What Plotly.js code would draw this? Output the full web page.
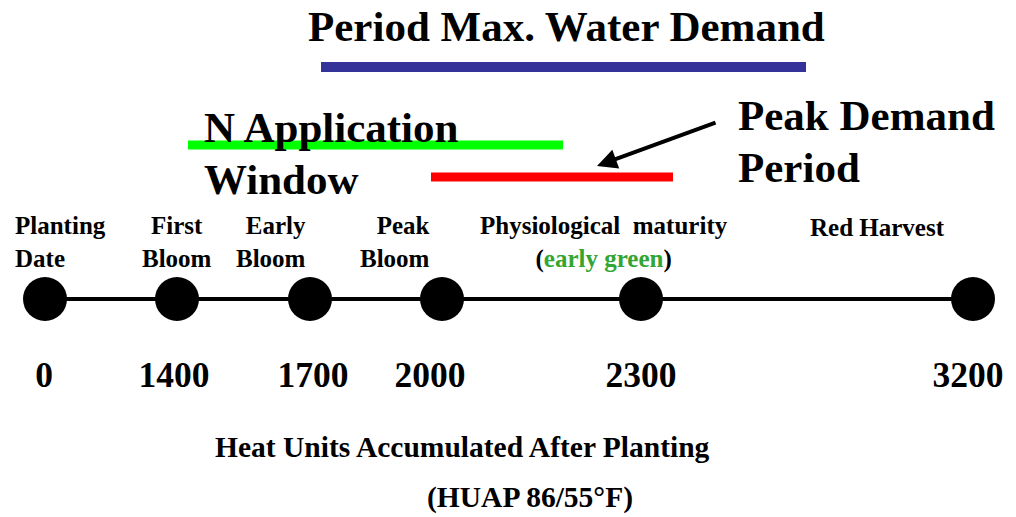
<!DOCTYPE html>
<html>
<head>
<meta charset="utf-8">
<script src="https://cdn.plot.ly/plotly-3.0.1.min.js"></script>
<style>html,body{margin:0;padding:0;background:#fff;} #chart{width:1016px;height:517px;}</style>
</head>
<body>
<div id="chart"></div>
<script>
// ---- data ----
const stageNames = ["Planting<br>Date", "First<br>Bloom", "Early<br>Bloom", "Peak<br>Bloom",
  "Physiological\u00a0 maturity<br>(<span style=\"color:#33a532\">early green</span>)", "Red Harvest"];
const heatUnits = [0, 1400, 1700, 2000, 2300, 3200];
const periodNames = ["Period Max. Water Demand", "N Application Window", "Peak Demand Period"];
const periodColors = ["#333399", "#00ff00", "#ff0000"];
const labelLines = ["Period Max. Water Demand", "N Application", "Window", "Peak Demand", "Period"];
const axisTitle = "Heat Units Accumulated After Planting";
const axisSubtitle = "(HUAP 86/55°F)";

// ---- layout (display positions on the schematic timeline) ----
const nodePos = [45, 177, 310, 442, 641, 973];
const labelPos = [44, 174, 313, 430, 641, 968];
const periodStart = [321, 188, 431];
const periodEnd = [806, 563, 673];
const periodRow = [67, 145, 177];
const periodWidth = [10, 9, 9];
const timelineRow = 299;

const serif = "'Liberation Serif', 'Times New Roman', serif";
const traces = [];
for (let i = 0; i < periodNames.length; i++) {
  traces.push({
    x: [periodStart[i], periodEnd[i]], y: [periodRow[i], periodRow[i]],
    mode: "lines", line: {color: periodColors[i], width: periodWidth[i]},
    name: periodNames[i], hoverinfo: "name", showlegend: false
  });
}
traces.push({
  x: nodePos, y: nodePos.map(() => timelineRow),
  mode: "lines+markers", line: {color: "#000", width: 4},
  marker: {color: "#000", size: 44},
  text: heatUnits.map(String), hoverinfo: "text", showlegend: false
});

const f = (size, color) => ({family: serif, size: size, color: color || "#000", weight: 700});
const ann = [];
// stage labels
const stageX = [13, 177, 308, 432, 604, 877];
const stageAnchor = ["left", "center", "right", "right", "center", "center"];
const stageY = [242, 242, 242, 242, 242, 227];
for (let i = 0; i < stageNames.length; i++) {
  ann.push({x: stageX[i], y: stageY[i], xref: "x", yref: "y", text: stageNames[i],
    showarrow: false, xanchor: stageAnchor[i], yanchor: "middle", align: stageAnchor[i],
    font: f(25)});
}
// period labels
const lineX = [566, 202, 202, 736, 736];
const lineY = [26, 127, 179, 115, 167];
const lineAnchor = ["center", "left", "left", "left", "left"];
for (let i = 0; i < labelLines.length; i++) {
  ann.push({x: lineX[i], y: lineY[i], xref: "x", yref: "y", text: labelLines[i], showarrow: false,
    xanchor: lineAnchor[i], yanchor: "middle", font: f(43)});
}
// arrow
ann.push({x: 597, y: 166, ax: 717, ay: 122, xref: "x", yref: "y", axref: "x", ayref: "y",
  text: "", showarrow: true, arrowhead: 2, arrowsize: 1, arrowwidth: 4, arrowcolor: "#000"});
// axis titles
ann.push({x: 462, y: 447, xref: "x", yref: "y", text: axisTitle, showarrow: false,
  xanchor: "center", yanchor: "middle", font: f(29.5)});
ann.push({x: 530, y: 497, xref: "x", yref: "y", text: axisSubtitle, showarrow: false,
  xanchor: "center", yanchor: "middle", font: f(29.5)});

const layout = {
  width: 1016, height: 517,
  margin: {l: 0, r: 0, t: 0, b: 0},
  paper_bgcolor: "#fff", plot_bgcolor: "#fff",
  showlegend: false,
  xaxis: {range: [0, 1016], showgrid: false, zeroline: false, showline: false,
    tickmode: "array", tickvals: labelPos, ticktext: heatUnits.map(String),
    ticks: "", tickfont: f(35.5), anchor: "free", position: 1 - 350 / 517, fixedrange: true},
  yaxis: {range: [517, 0], showgrid: false, zeroline: false, showline: false,
    showticklabels: false, fixedrange: true},
  annotations: ann
};
Plotly.newPlot("chart", traces, layout, {displayModeBar: false, staticPlot: true});
</script>
</body>
</html>
